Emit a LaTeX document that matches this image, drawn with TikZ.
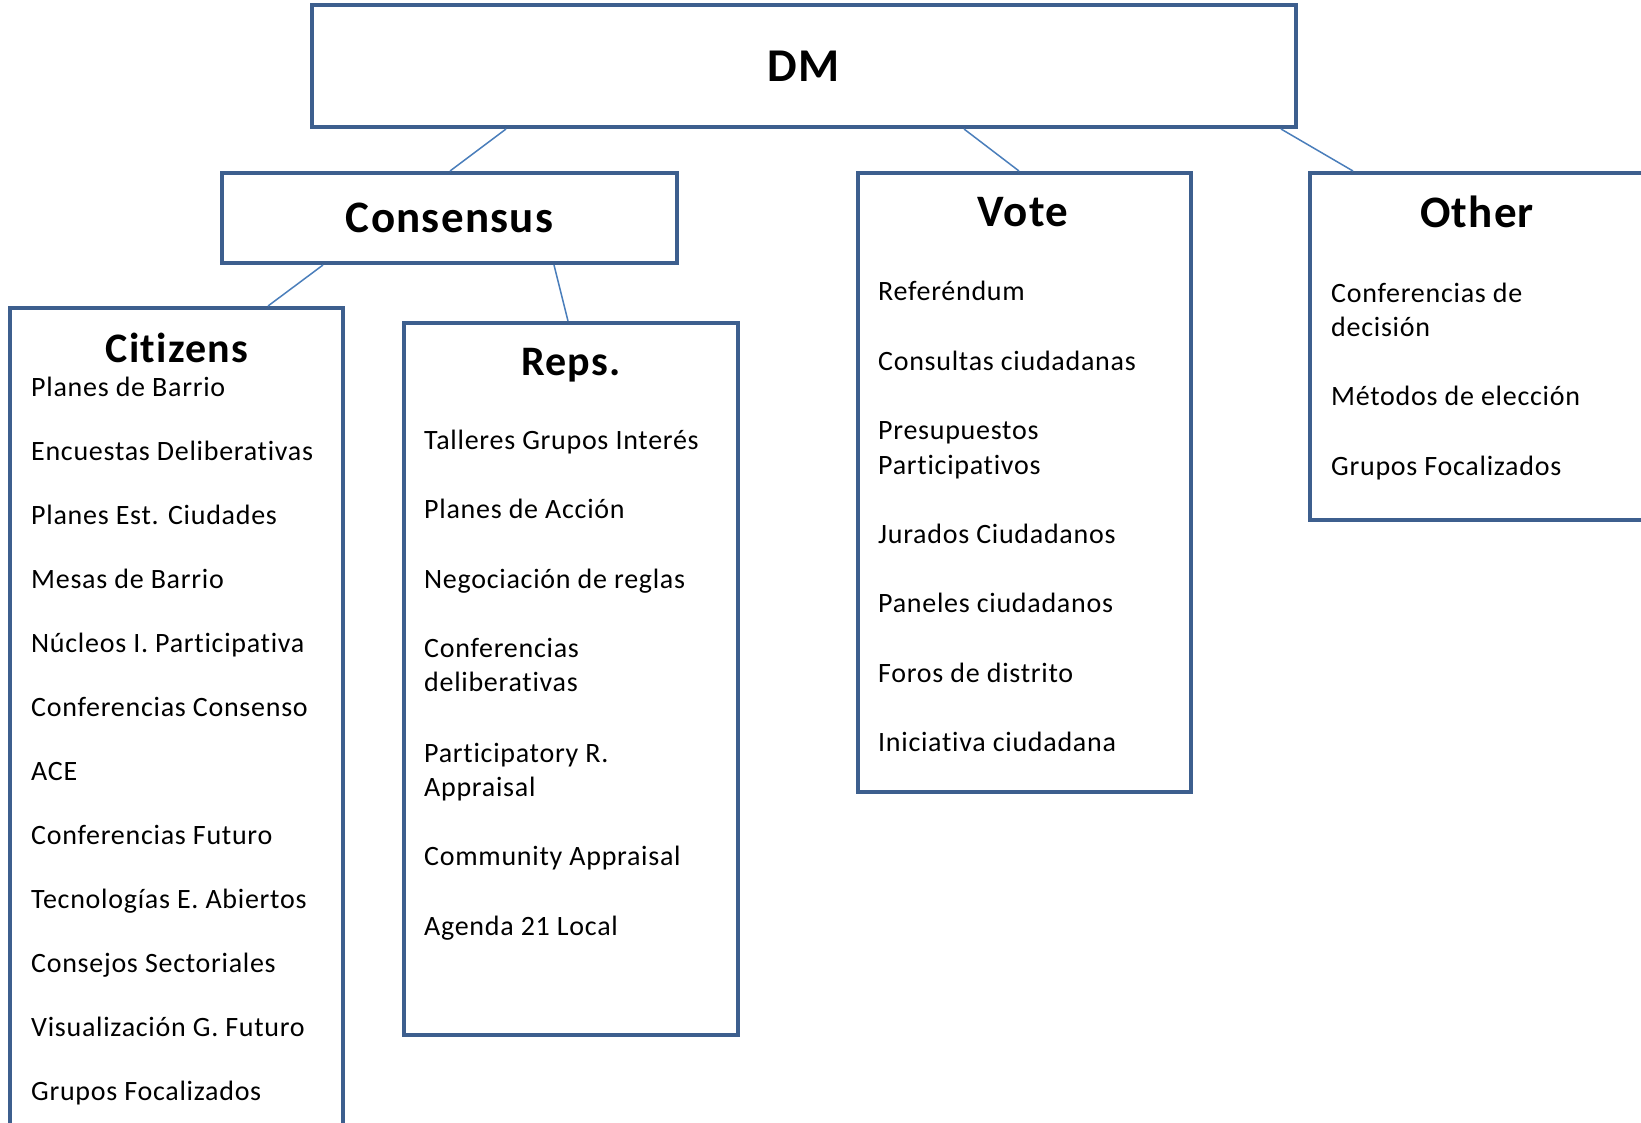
\documentclass[tikz,border=0pt]{standalone}
\usepackage{fontspec}
\setmainfont{Carlito}[LetterSpace=2.6, Ligatures=CommonOff]
\newfontfamily\headfont{Carlito}[LetterSpace=2.8, Ligatures=CommonOff]
\usetikzlibrary{calc}
\definecolor{boxblue}{HTML}{3D5F8E}
\definecolor{linkblue}{HTML}{4A7EBB}
\tikzset{
  panel/.style = {draw=boxblue, line width=4pt, fill=white, inner sep=0pt},
  heading/.style = {font=\headfont\fontsize{45}{50}\selectfont\bfseries, inner sep=0pt, anchor=base},
  subheading/.style = {heading, font=\headfont\fontsize{42}{50}\selectfont\bfseries},
  item/.style = {font=\fontsize{28}{34.5}\selectfont, inner sep=0pt, anchor=base west, align=left},
  link/.style = {draw=linkblue, line width=1.5pt}
}
\begin{document}
\begin{tikzpicture}[x=1pt, y=-1pt]
  \useasboundingbox (0,0) rectangle (1641,1122);
  \clip (0,0) rectangle (1641,1122);
  % boxes
  \node[panel, minimum width=984pt, minimum height=122pt, font=\headfont\fontsize{47}{50}\selectfont\bfseries] (dm) at (804,66) {DM};
  \node[panel, minimum width=455pt, minimum height=90pt, font=\headfont\fontsize{45}{50}\selectfont\bfseries] (cons) at (449.5,218) {Consensus};
  \node[panel, minimum width=333pt, minimum height=832pt] (cit) at (176.5,724) {};
  \node[panel, minimum width=334pt, minimum height=712pt] (reps) at (571,679) {};
  \node[panel, minimum width=333pt, minimum height=619pt] (vote) at (1024.5,482.5) {};
  \node[panel, minimum width=360pt, minimum height=347pt] (other) at (1490,346.5) {};
  % connectors
  \draw[link] ([xshift=196pt]dm.south west) -- ([xshift=230pt]cons.north west);
  \draw[link] ([xshift=654pt]dm.south west) -- ([xshift=163pt]vote.north west);
  \draw[link] ([xshift=971pt]dm.south west) -- ([xshift=45pt]other.north west);
  \draw[link] ([xshift=103pt]cons.south west) -- ([xshift=260pt]cit.north west);
  \draw[link] ([xshift=334pt]cons.south west) -- ([xshift=166pt]reps.north west);
  % headings
  \node[subheading] (cit-title) at (177,362) {Citizens};
  \node[subheading] (reps-title) at (571,375) {Reps.};
  \node[heading] (vote-title) at (1023,226) {Vote};
  \node[heading] (other-title) at (1477,227) {Other};
  % items (y = baseline of the last line)
  \foreach \txt [count=\n from 0] in {Planes de Barrio, Encuestas Deliberativas, Planes Est. Ciudades,
      Mesas de Barrio, Núcleos I. Participativa, Conferencias Consenso, ACE, Conferencias Futuro,
      Tecnologías E. Abiertos, Consejos Sectoriales, Visualización G. Futuro, Grupos Focalizados}
    \node[item] (cit\n) at (31,{396+64*\n}) {\txt};
  \foreach \y/\txt [count=\n] in {449/Talleres Grupos Interés, 518/Planes de Acción,
      588/Negociación de reglas, 691.5/{Conferencias\\deliberativas},
      796.5/{Participatory R.\\Appraisal}, 865/Community Appraisal, 935/Agenda 21 Local}
    \node[item] (rep\n) at (424,\y) {\txt};
  \foreach \y/\txt [count=\n] in {300/Referéndum, 370/Consultas ciudadanas,
      474/{Presupuestos\\Participativos}, 543/Jurados Ciudadanos, 612/Paneles ciudadanos,
      682/Foros de distrito, 751/Iniciativa ciudadana}
    \node[item] (vote\n) at (878,\y) {\txt};
  \foreach \y/\txt [count=\n] in {336.5/{Conferencias de\\decisión}, 405/Métodos de elección,
      475/Grupos Focalizados}
    \node[item] (oth\n) at (1331,\y) {\txt};
\end{tikzpicture}
\end{document}
